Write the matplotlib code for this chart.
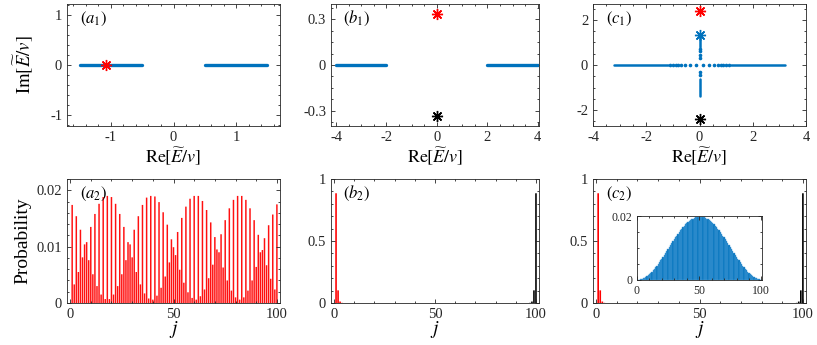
import numpy as np
import matplotlib.pyplot as plt
from matplotlib.ticker import AutoMinorLocator

plt.rcParams['font.family'] = ['Liberation Serif', 'DejaVu Serif']
plt.rcParams['mathtext.fontset'] = 'stix'
plt.rcParams['axes.unicode_minus'] = False
plt.rcParams['font.size'] = 10

blue = '#0072BD'
dark = '#262626'

# ---- spectra (top row): band edges on the real axis, isolated eigenvalues ----
bands_a1 = [(-1.5, -0.5), (0.5, 1.5)]
star_a1 = (-1.07, 0.0)

bands_b1 = [(-4.0, -2.0), (2.0, 4.0)]
star_b1_red = (0.0, 0.335)
star_b1_black = (0.0, -0.335)

bands_c1 = [(-3.2, -1.2), (1.2, 3.2)]
dots_c1_re = [-1.1, -1.0, -0.9, -0.8, -0.7, -0.55, -0.35, -0.12, 0.12, 0.35, 0.55, 0.7, 0.8, 0.9, 1.0, 1.1]
vbands_c1 = [(0.8, 1.3), (-1.35, -0.6)]
dots_c1_im = [0.7, 0.6, 0.45, 0.3, -0.3, -0.45]
star_c1_blue = (0.0, 1.34)
star_c1_red = (0.0, 2.40)
star_c1_black = (0.0, -2.38)

# ---- site probabilities (bottom row) ----
j_odd = np.arange(1, 100, 2)
j_even = np.arange(2, 101, 2)
prob_a2_odd = [0.0174, 0.0154, 0.0130, 0.0104, 0.0076, 0.0051, 0.0030, 0.0015, 0.0007, 0.0007,
               0.0015, 0.0030, 0.0051, 0.0076, 0.0104, 0.0130, 0.0154, 0.0174, 0.0187, 0.0190,
               0.0189, 0.0179, 0.0161, 0.0139, 0.0113, 0.0085, 0.0059, 0.0036, 0.0019, 0.0009,
               0.0006, 0.0012, 0.0024, 0.0044, 0.0068, 0.0095, 0.0122, 0.0147, 0.0168, 0.0183,
               0.0190, 0.0190, 0.0183, 0.0168, 0.0147, 0.0121, 0.0094, 0.0067, 0.0043, 0.0024]
prob_a2_even = [0.0033, 0.0055, 0.0081, 0.0108, 0.0135, 0.0158, 0.0176, 0.0188, 0.0190, 0.0188,
                0.0176, 0.0158, 0.0135, 0.0108, 0.0081, 0.0055, 0.0033, 0.0017, 0.0008, 0.0006,
                0.0013, 0.0027, 0.0047, 0.0072, 0.0099, 0.0126, 0.0151, 0.0171, 0.0185, 0.0190,
                0.0190, 0.0181, 0.0165, 0.0143, 0.0117, 0.0090, 0.0063, 0.0040, 0.0022, 0.0010,
                0.0006, 0.0010, 0.0022, 0.0040, 0.0064, 0.0090, 0.0115, 0.0138, 0.0157, 0.0175]

j_left = [1, 2, 3, 4]
prob_left = [0.885, 0.102, 0.0118, 0.0014]
j_right = [97, 98, 99, 100]
prob_right = [0.0014, 0.0118, 0.102, 0.885]

j_inset = np.arange(1, 101)
prob_inset = [0.00002, 0.00008, 0.0002, 0.0003, 0.0005, 0.0007, 0.0009, 0.0012, 0.0015, 0.0019,
              0.0022, 0.0026, 0.0031, 0.0035, 0.0040, 0.0045, 0.0050, 0.0056, 0.0061, 0.0067,
              0.0073, 0.0079, 0.0085, 0.0091, 0.0097, 0.0104, 0.0110, 0.0116, 0.0122, 0.0128,
              0.0134, 0.0139, 0.0145, 0.0150, 0.0155, 0.0160, 0.0165, 0.0170, 0.0174, 0.0178,
              0.0181, 0.0184, 0.0187, 0.0190, 0.0192, 0.0194, 0.0196, 0.0197, 0.0198, 0.0198,
              0.0198, 0.0198, 0.0197, 0.0196, 0.0194, 0.0192, 0.0190, 0.0187, 0.0184, 0.0181,
              0.0178, 0.0174, 0.0170, 0.0165, 0.0160, 0.0155, 0.0150, 0.0145, 0.0139, 0.0134,
              0.0128, 0.0122, 0.0116, 0.0110, 0.0104, 0.0097, 0.0091, 0.0085, 0.0079, 0.0073,
              0.0067, 0.0061, 0.0056, 0.0050, 0.0045, 0.0040, 0.0035, 0.0031, 0.0026, 0.0022,
              0.0019, 0.0015, 0.0012, 0.0009, 0.0007, 0.0005, 0.0003, 0.0002, 0.00008, 0.00002]

W, H = 817, 345
fig = plt.figure(figsize=(W / 100, H / 100), dpi=100)


def box(left, top, width, height):
    return fig.add_axes([left / W, 1 - (top + height) / H, width / W, height / H])


def style(ax, fs=10.5):
    ax.tick_params(which='both', direction='in', top=True, right=True, colors=dark,
                   labelsize=fs, width=0.6)
    ax.tick_params(which='major', length=3)
    ax.tick_params(which='minor', length=1.5)
    ax.xaxis.set_minor_locator(AutoMinorLocator())
    ax.yaxis.set_minor_locator(AutoMinorLocator())
    for s in ax.spines.values():
        s.set_color(dark)
        s.set_linewidth(0.6)


def star(ax, pt, c):
    ax.plot(pt[0], pt[1], ls='none', marker=(8, 2, 0), ms=8, mew=1.0, color=c, zorder=5)


lefts = [67, 331, 593]
widths = [213, 208, 213]

# top row
a1 = box(lefts[0], 4, widths[0], 122)
for b in bands_a1:
    a1.plot(b, [0, 0], color=blue, lw=2.4, solid_capstyle='round')
star(a1, star_a1, 'red')
a1.set_xlim(-1.7, 1.7)
a1.set_ylim(-1.22, 1.22)
a1.set_xticks([-1, 0, 1])
a1.set_yticks([-1, 0, 1])
a1.set_ylabel(r'$\mathrm{Im}[\widetilde{E}/v]$', fontsize=13.5, labelpad=11)

b1 = box(lefts[1], 4, widths[1], 122)
for b in bands_b1:
    b1.plot(b, [0, 0], color=blue, lw=2.4, solid_capstyle='round')
star(b1, star_b1_red, 'red')
star(b1, star_b1_black, 'black')
b1.set_xlim(-4.2, 4.05)
b1.set_ylim(-0.4, 0.4)
b1.set_xticks([-4, -2, 0, 2, 4])
b1.set_yticks([-0.3, 0, 0.3])
b1.set_yticklabels(['-0.3', '0', '0.3'])

c1 = box(lefts[2], 4, widths[2], 122)
for b in bands_c1:
    c1.plot(b, [0, 0], color=blue, lw=1.8, solid_capstyle='round')
c1.plot(dots_c1_re, np.zeros(len(dots_c1_re)), ls='none', marker='o', ms=1.6, color=blue)
for b in vbands_c1:
    c1.plot([0, 0], b, color=blue, lw=1.8, solid_capstyle='round')
c1.plot(np.zeros(len(dots_c1_im)), dots_c1_im, ls='none', marker='o', ms=1.6, color=blue)
star(c1, star_c1_blue, blue)
star(c1, star_c1_red, 'red')
star(c1, star_c1_black, 'black')
c1.set_xlim(-4, 4)
c1.set_ylim(-2.7, 2.7)
c1.set_xticks([-4, -2, 0, 2, 4])
c1.set_yticks([-2, 0, 2])

for ax, lab in zip([a1, b1, c1], ['a', 'b', 'c']):
    style(ax)
    ax.set_xlabel(r'$\mathrm{Re}[\widetilde{E}/v]$', fontsize=13, labelpad=1)
    ax.text(0.06, 0.88, r'$(%s_1)$' % lab, transform=ax.transAxes, fontsize=12,
            va='center', ha='left')

# bottom row
a2 = box(lefts[0], 179, widths[0], 124)
a2.bar(j_odd, prob_a2_odd, width=0.72, color='#ff1010', edgecolor='none', snap=False)
a2.bar(j_even, prob_a2_even, width=0.72, color='#ff1010', edgecolor='none', snap=False)
a2.set_ylim(0, 0.022)
a2.set_yticks([0, 0.01, 0.02])
a2.set_yticklabels(['0', '0.01', '0.02'])
a2.set_ylabel('Probability', fontsize=14, labelpad=4)

b2 = box(lefts[1], 179, widths[1], 124)
c2 = box(lefts[2], 179, widths[2], 124)
for ax in [b2, c2]:
    ax.bar(j_left, prob_left, width=0.8, color='red', edgecolor='none', snap=False)
    ax.bar(j_right, prob_right, width=0.8, color='black', edgecolor='none', snap=False)
    ax.set_ylim(0, 1)
    ax.set_yticks([0, 0.5, 1])
    ax.set_yticklabels(['0', '0.5', '1'])

for ax, lab in zip([a2, b2, c2], ['a', 'b', 'c']):
    ax.set_xlim(-1.5, 101.5)
    ax.set_xticks([0, 50, 100])
    style(ax)
    ax.set_xlabel(r'$j$', fontsize=14, labelpad=-1)
    ax.text(0.06, 0.88, r'$(%s_2)$' % lab, transform=ax.transAxes, fontsize=12,
            va='center', ha='left')

ins = box(637, 216, 125, 64)
ins.bar(j_inset, prob_inset, width=1.0, color=blue, edgecolor='#4f9fd9', linewidth=0.3)
ins.set_xlim(0, 100.5)
ins.set_ylim(0, 0.02)
ins.set_xticks([0, 50, 100])
ins.set_yticks([0, 0.02])
ins.set_yticklabels(['0', '0.02'])
style(ins, fs=8.5)
ins.yaxis.set_minor_locator(AutoMinorLocator(4))

fig.savefig('out.png', dpi=100)
